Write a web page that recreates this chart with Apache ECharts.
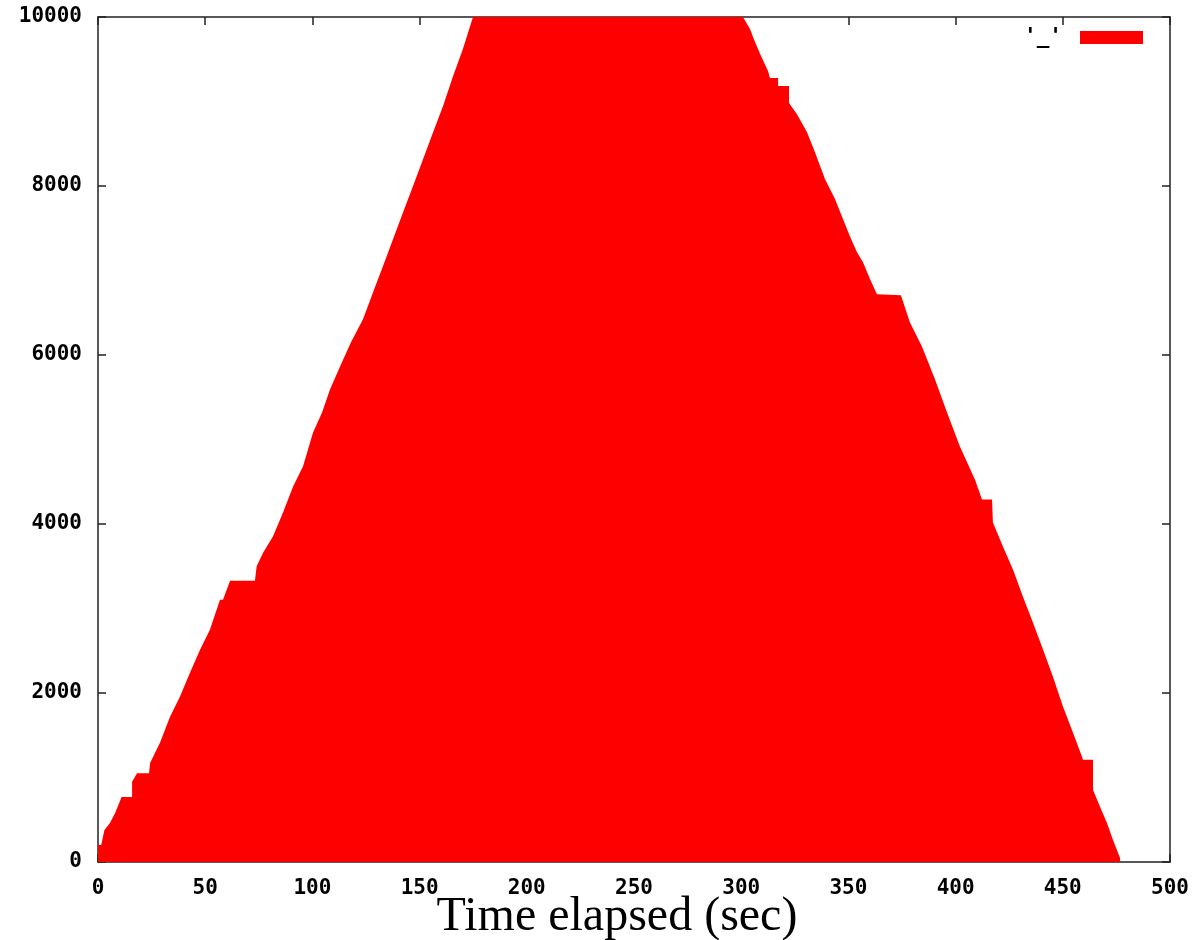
<!DOCTYPE html>
<html>
<head>
<meta charset="utf-8">
<script src="https://cdn.jsdelivr.net/npm/echarts@6/dist/echarts.min.js"></script>
<style>
html,body{margin:0;padding:0;background:#fff;}
#chart{width:1201px;height:940px;}
</style>
</head>
<body>
<div id="chart"></div>
<script>
// Time elapsed (sec)
const timeSec = [
  0, 0, 0.5, 1.5, 3, 5.5, 8, 11, 15.9, 15.9, 18.2, 23.8, 24.3, 28.9, 33.6, 38.2, 42.9, 47.6, 52.2, 56.9, 58.3, 61.6,
  73.2, 74, 77, 81.6, 86.3, 91, 95.6, 100.3, 104.5, 108.2, 112.9, 118, 123.6, 128.3, 132.9, 137.6, 142.3,
  146.9, 151.6, 156.3, 160.9, 165.6, 170.2, 174.9,
  300.8, 304.1, 305.5, 308.8, 312.5, 313.4, 317.2, 317.2, 322.3, 322.3, 326, 330.7, 334.4, 339.1, 343.8,
  347.5, 350.7, 354, 356.8, 360.1, 363.3, 363.8, 374.5, 378.7, 384.3, 390.4, 396, 402, 409, 412.3,
  417, 417.4, 422.1, 426.8, 431.4, 436.1, 440.8, 445.4, 450.1, 454.8, 459, 459.4, 464.1, 464.1,
  467.4, 470.6, 473.4, 476.7, 476.7
];
// Values
const values = [
  0, 200, 200, 200, 380, 460, 580, 770, 770, 950, 1050, 1050, 1173, 1410, 1718, 1955, 2239, 2512, 2749, 3104, 3104, 3329,
  3329, 3500, 3661, 3851, 4135, 4443, 4680, 5083, 5320, 5592, 5865, 6150, 6422, 6742, 7050, 7370, 7690,
  7998, 8318, 8637, 8945, 9300, 9621, 10000,
  10000, 9858, 9763, 9561, 9360, 9277, 9277, 9182, 9182, 8981, 8850, 8637, 8400, 8081, 7844,
  7607, 7405, 7216, 7097, 6896, 6718, 6706, 6706, 6386, 6102, 5711, 5320, 4917, 4526, 4289,
  4289, 4017, 3732, 3460, 3140, 2832, 2512, 2192, 1836, 1528, 1244, 1209, 1209, 853,
  652, 462, 261, 47, 0
];
const xTicks = [0, 50, 100, 150, 200, 250, 300, 350, 400, 450, 500];
const yTicks = [0, 2000, 4000, 6000, 8000, 10000];
const seriesName = "'_'";
const xTitle = 'Time elapsed (sec)';

const pairs = timeSec.map((t, i) => [t, values[i]]);

const tickFont = {fontFamily: 'DejaVu Sans Mono', fontWeight: 'bold', fontSize: 21, color: '#000'};
const lineStyle = {color: '#222', width: 1.5};
const plainNum = v => String(v);

const chart = echarts.init(document.getElementById('chart'), null, {renderer: 'canvas'});
chart.setOption({
  backgroundColor: '#fff',
  animation: false,
  grid: {left: 98, right: 31, top: 17, bottom: 78, containLabel: false, outerBoundsMode: 'none'},
  legend: {
    show: true,
    right: 53, top: 22,
    align: 'right',
    icon: 'rect',
    itemWidth: 63, itemHeight: 13,
    data: [seriesName],
    textStyle: {fontFamily: 'DejaVu Sans Mono', fontWeight: 'bold', fontSize: 21, color: '#000', padding: [0, 13, 0, 0]},
    selectedMode: false
  },
  xAxis: [{
    type: 'value', min: xTicks[0], max: xTicks[xTicks.length - 1], interval: 50,
    position: 'bottom',
    axisLine: {show: true, onZero: false, lineStyle: lineStyle},
    axisTick: {show: true, inside: true, length: 8, lineStyle: lineStyle},
    axisLabel: Object.assign({margin: 16, formatter: plainNum}, tickFont),
    splitLine: {show: false},
    name: xTitle, nameLocation: 'middle', nameGap: 31, nameMoveOverlap: false,
    nameTextStyle: {fontFamily: 'Liberation Serif', fontSize: 48, color: '#000', padding: [0, 34, 0, 0]}
  }, {
    type: 'value', min: xTicks[0], max: xTicks[xTicks.length - 1], interval: 50,
    position: 'top',
    axisLine: {show: true, onZero: false, lineStyle: lineStyle},
    axisTick: {show: true, inside: true, length: 8, lineStyle: lineStyle},
    axisLabel: {show: false},
    splitLine: {show: false}
  }],
  yAxis: [{
    type: 'value', min: yTicks[0], max: yTicks[yTicks.length - 1], interval: 2000,
    position: 'left',
    axisLine: {show: true, onZero: false, lineStyle: lineStyle},
    axisTick: {show: true, inside: true, length: 8, lineStyle: lineStyle},
    axisLabel: Object.assign({margin: 16, formatter: plainNum}, tickFont),
    splitLine: {show: false}
  }, {
    type: 'value', min: yTicks[0], max: yTicks[yTicks.length - 1], interval: 2000,
    position: 'right',
    axisLine: {show: true, onZero: false, lineStyle: lineStyle},
    axisTick: {show: true, inside: true, length: 8, lineStyle: lineStyle},
    axisLabel: {show: false},
    splitLine: {show: false}
  }],
  series: [{
    name: seriesName,
    type: 'line',
    xAxisIndex: 0, yAxisIndex: 0,
    data: pairs,
    symbol: 'none',
    showSymbol: false,
    color: '#ff0000',
    lineStyle: {width: 0, color: '#ff0000'},
    areaStyle: {color: '#ff0000', opacity: 1},
    z: 1
  }]
});
</script>
</body>
</html>
